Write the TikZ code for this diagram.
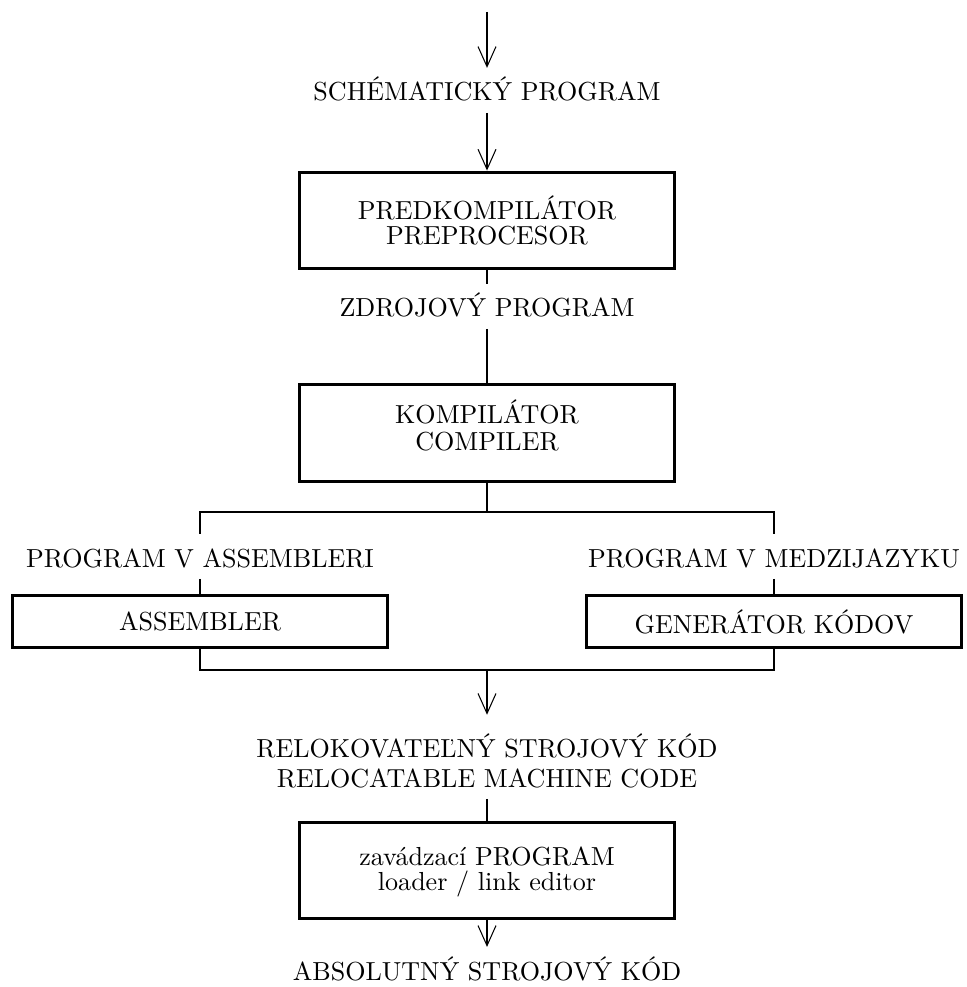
\documentclass[tikz,border=0pt]{standalone}
\usepackage{fontspec}
\usetikzlibrary{arrows.meta}
\tikzset{
    %Define standard arrow tip
    >={Straight Barb[length=7.7pt,width=6.9pt]},
    %Define style for boxes
    box/.style={
           rectangle,
           draw=black, line width=1.3pt,
           minimum width=144pt,
           minimum height=37pt,
           inner sep=0pt,
           align=center,
           font=\fontsize{10}{9.6}\selectfont},
    smallbox/.style={
           box,
           minimum height=20pt},
    % Define style for labels
    lbl/.style={
           anchor=base,
           inner sep=0pt, outer sep=0pt,
           text height=12.7pt,
           text depth=4.6pt},
    % Define arrow style
    imply/.style={
           ->,
           thin},
    link/.style={
           thin}
}
\begin{document}
\begin{tikzpicture}[x=0.3836pt, y=-0.3836pt]
    \useasboundingbox (0,0) rectangle (966,987);
 %nodes
    \coordinate (start) at (487,12);
    \node[lbl] (sch) at (487,101) {SCHÉMATICKÝ PROGRAM};
    \node[box] (pre) at (487,220.5) {PREDKOMPILÁTOR\\PREPROCESOR};
    \node[lbl] (zdroj) at (487,317) {ZDROJOVÝ PROGRAM};
    \node[box, text depth=6pt] (komp) at (487,433) {KOMPILÁTOR\\[0.6pt]COMPILER};
    \coordinate (split) at (487,512);
    \node[lbl] (asml) at (200,567) {PROGRAM V ASSEMBLERI};
    \node[lbl] (medl) at (774,567) {PROGRAM V MEDZIJAZYKU};
    \node[smallbox] (asm) at (200,621.5) {ASSEMBLER};
    \node[smallbox] (gen) at (774,621.5) {GENERÁTOR KÓDOV};
    \coordinate (join) at (487,670);
    \node[lbl, text height=16.2pt] (reloc) at (487,757) {RELOKOVATEĽNÝ STROJOVÝ KÓD};
    \node[lbl] (relocen) at (487,787) {RELOCATABLE MACHINE CODE};
    \node[box, text depth=1.5pt] (load) at (487,870.5) {zavádzací PROGRAM\\loader / link editor};
    \node[lbl] (abs) at (487,980) {ABSOLUTNÝ STROJOVÝ KÓD};
 %edges
    \draw[imply] (start) -- (sch.north);
    \draw[imply] (sch.south) -- (pre.north);
    \draw[link] (pre.south) -- (zdroj.north);
    \draw[link] (zdroj.south) -- (komp.north);
    \draw[link] (komp.south) -- (split);
    \draw[link] (asml.north) |- (split) -| (medl.north);
    \draw[link] (asml.south) -- (asm.north);
    \draw[link] (medl.south) -- (gen.north);
    \draw[link] (asm.south) |- (join) -| (gen.south);
    \draw[imply] (join) -- (reloc.north);
    \draw[link] (relocen.south) -- (load.north);
    \draw[imply] (load.south) -- (abs.north);
  \end{tikzpicture}
\end{document}
